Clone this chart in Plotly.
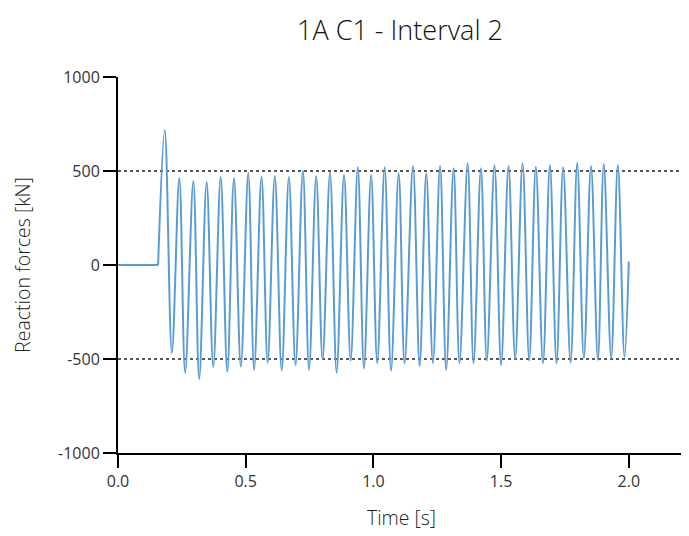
import plotly.graph_objects as go

# ---- data ----
flat_time = [0.0, 0.157]
flat_force = [0, 0]

peak_time = [0.183, 0.240, 0.295, 0.347, 0.402, 0.454, 0.510, 0.562, 0.614, 0.669,
             0.724, 0.776, 0.830, 0.885, 0.939, 0.991, 1.044, 1.099, 1.155, 1.207,
             1.261, 1.314, 1.369, 1.421, 1.474, 1.529, 1.584, 1.636, 1.691, 1.743,
             1.798, 1.852, 1.902, 1.957]
peak_force = [718, 463, 447, 441, 468, 463, 489, 470, 473, 468,
              502, 473, 491, 479, 520, 479, 520, 488, 527, 488,
              527, 514, 541, 514, 530, 527, 541, 523, 532, 520,
              544, 527, 537, 532]

trough_time = [0.211, 0.263, 0.318, 0.373, 0.428, 0.481, 0.533, 0.586, 0.641, 0.695,
               0.748, 0.801, 0.856, 0.911, 0.963, 1.015, 1.069, 1.122, 1.181, 1.233,
               1.285, 1.337, 1.392, 1.444, 1.500, 1.555, 1.610, 1.664, 1.717, 1.772,
               1.824, 1.879, 1.931, 1.983]
trough_force = [-468, -574, -606, -543, -569, -541, -558, -520, -562, -532,
                -558, -502, -573, -509, -550, -523, -562, -523, -537, -523,
                -558, -523, -523, -509, -532, -502, -509, -523, -523, -520,
                -496, -505, -496, -488]

end_time = [2.0]
end_force = [18]

x_ticks = [0.0, 0.5, 1.0, 1.5, 2.0]
x_tick_labels = ["0.0", "0.5", "1.0", "1.5", "2.0"]
y_ticks = [-1000, -500, 0, 500, 1000]
y_tick_labels = ["-1000", "-500", "0", "500", "1000"]
ref_levels = [500, -500]

# merge extremes in time order
pts = sorted(list(zip(peak_time, peak_force)) + list(zip(trough_time, trough_force)))
osc_time = [flat_time[-1]] + [p[0] for p in pts] + end_time
osc_force = [flat_force[-1]] + [p[1] for p in pts] + end_force

color = "#5B9BD5"
fig = go.Figure()
fig.add_trace(go.Scatter(x=flat_time, y=flat_force, mode="lines",
                         line=dict(color=color, width=2), showlegend=False))
fig.add_trace(go.Scatter(x=osc_time, y=osc_force, mode="lines",
                         line=dict(color=color, width=2, shape="spline", smoothing=1.0),
                         showlegend=False))

for lvl in ref_levels:
    fig.add_shape(type="line", xref="paper", x0=0, x1=1, yref="y", y0=lvl, y1=lvl,
                  line=dict(color="#222222", width=1.5, dash="dot"), layer="below")

font_fam = "Open Sans, Segoe UI, sans-serif"
tick_col = "#333333"
fig.update_layout(
    width=681, height=528,
    margin=dict(l=110, r=4, t=69, b=83, autoexpand=False),
    paper_bgcolor="white", plot_bgcolor="white",
    title=dict(text="1A C1 - Interval 2", x=0.5756, xanchor="center", y=0.958, yanchor="middle",
               automargin=False,
               font=dict(family=font_fam, size=27, color="#111111", weight=300)),
    font=dict(family=font_fam, color=tick_col, size=16),
    xaxis=dict(range=[0, 2.22], tickvals=x_ticks, ticktext=x_tick_labels, automargin=False,
               showgrid=False, zeroline=False, showline=True, linecolor="black", linewidth=2,
               ticks="outside", ticklen=13, tickwidth=2, tickcolor="black",
               tickfont=dict(family=font_fam, size=16, color=tick_col),
               title=dict(text="Time [s]", font=dict(family=font_fam, size=19.5, color="#222222", weight=300), standoff=20)),
    yaxis=dict(range=[-1000, 1000], tickvals=y_ticks, ticktext=y_tick_labels, automargin=False,
               showgrid=False, zeroline=False, showline=True, linecolor="black", linewidth=2,
               ticks="outside", ticklen=13, tickwidth=2, tickcolor="black",
               tickfont=dict(family=font_fam, size=16, color=tick_col),
               title=dict(text="Reaction forces [kN]", font=dict(family=font_fam, size=19.5, color="#222222", weight=300), standoff=22)),
)

fig.write_html("out.html")
